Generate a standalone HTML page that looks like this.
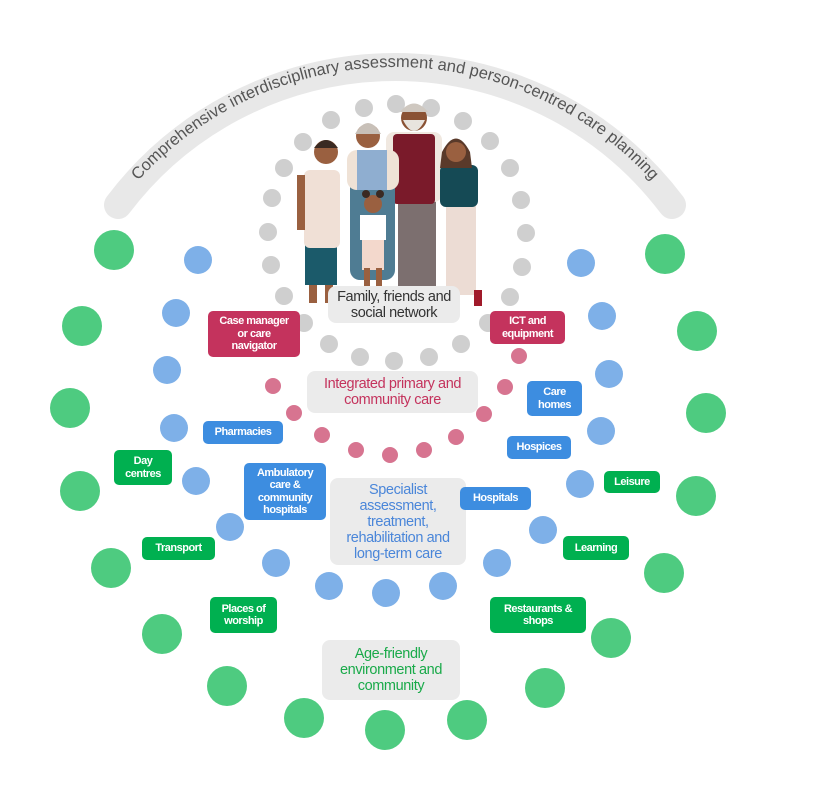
<!DOCTYPE html>
<html><head><meta charset="utf-8"><style>
html,body{margin:0;padding:0;background:#fff;}
body{width:818px;height:793px;position:relative;overflow:hidden;font-family:"Liberation Sans",sans-serif;}
.l{position:absolute;color:#fff;font-weight:bold;font-size:11px;line-height:12.5px;text-align:center;border-radius:5px;display:flex;align-items:center;justify-content:center;letter-spacing:-0.5px;}
.p{background:#c4335d}.b{background:#3d8de0}.g{background:#00b050}
.c{position:absolute;background:#ebebeb;border-radius:8px;text-align:center;font-size:14.5px;line-height:16px;display:flex;align-items:center;justify-content:center;letter-spacing:-0.4px;}
</style></head><body>
<svg width="818" height="793" style="position:absolute;left:0;top:0">
<defs><path id="arc" d="M118,205 A347,347 0 0 1 672,205"/></defs>
<path d="M118,205 A347,347 0 0 1 672,205" fill="none" stroke="#e8e8e8" stroke-width="28" stroke-linecap="round"/>
<text font-family="Liberation Sans, sans-serif" font-size="16.5" fill="#555"><textPath href="#arc" startOffset="50%" text-anchor="middle" dy="6">Comprehensive interdisciplinary assessment and person-centred care planning</textPath></text>
<g fill="#cfcfcf">
<circle cx="396" cy="104" r="9"/><circle cx="431" cy="108" r="9"/><circle cx="463" cy="121" r="9"/><circle cx="490" cy="141" r="9"/><circle cx="510" cy="168" r="9"/><circle cx="521" cy="200" r="9"/><circle cx="526" cy="233" r="9"/><circle cx="522" cy="267" r="9"/><circle cx="510" cy="297" r="9"/><circle cx="488" cy="323" r="9"/><circle cx="461" cy="344" r="9"/><circle cx="429" cy="357" r="9"/><circle cx="394" cy="361" r="9"/><circle cx="360" cy="357" r="9"/><circle cx="329" cy="344" r="9"/><circle cx="304" cy="323" r="9"/><circle cx="284" cy="296" r="9"/><circle cx="271" cy="265" r="9"/><circle cx="268" cy="232" r="9"/><circle cx="272" cy="198" r="9"/><circle cx="284" cy="168" r="9"/><circle cx="303" cy="142" r="9"/><circle cx="331" cy="120" r="9"/><circle cx="364" cy="108" r="9"/>
</g>
<g fill="#d77490">
<circle cx="273" cy="386" r="8"/><circle cx="294" cy="413" r="8"/><circle cx="322" cy="435" r="8"/><circle cx="356" cy="450" r="8"/><circle cx="390" cy="455" r="8"/><circle cx="424" cy="450" r="8"/><circle cx="456" cy="437" r="8"/><circle cx="484" cy="414" r="8"/><circle cx="505" cy="387" r="8"/><circle cx="519" cy="356" r="8"/>
</g>
<g fill="#7eb0e8">
<circle cx="198" cy="260" r="14"/><circle cx="176" cy="313" r="14"/><circle cx="167" cy="370" r="14"/><circle cx="174" cy="428" r="14"/><circle cx="196" cy="481" r="14"/><circle cx="230" cy="527" r="14"/><circle cx="276" cy="563" r="14"/><circle cx="329" cy="586" r="14"/><circle cx="386" cy="593" r="14"/><circle cx="443" cy="586" r="14"/><circle cx="497" cy="563" r="14"/><circle cx="543" cy="530" r="14"/><circle cx="580" cy="484" r="14"/><circle cx="601" cy="431" r="14"/><circle cx="609" cy="374" r="14"/><circle cx="602" cy="316" r="14"/><circle cx="581" cy="263" r="14"/>
</g>
<g fill="#4ecb80">
<circle cx="114" cy="250" r="20"/><circle cx="82" cy="326" r="20"/><circle cx="70" cy="408" r="20"/><circle cx="80" cy="491" r="20"/><circle cx="111" cy="568" r="20"/><circle cx="162" cy="634" r="20"/><circle cx="227" cy="686" r="20"/><circle cx="304" cy="718" r="20"/><circle cx="385" cy="730" r="20"/><circle cx="467" cy="720" r="20"/><circle cx="545" cy="688" r="20"/><circle cx="611" cy="638" r="20"/><circle cx="664" cy="573" r="20"/><circle cx="696" cy="496" r="20"/><circle cx="706" cy="413" r="20"/><circle cx="697" cy="331" r="20"/><circle cx="665" cy="254" r="20"/>
</g>
<g>
<rect x="398" y="200" width="38" height="93" fill="#7c6f6f"/>
<rect x="386" y="132" width="56" height="70" rx="8" fill="#f0e8e0"/>
<rect x="393" y="134" width="42" height="70" rx="4" fill="#7a1a2a"/>
<circle cx="414" cy="118" r="13" fill="#8a5234"/>
<path d="M400,112 Q414,95 428,112" fill="#cfc8c0"/>
<path d="M403,120 Q414,142 425,120" fill="#e8e4de"/>
<rect x="350" y="160" width="45" height="120" rx="10" fill="#4f7c93"/>
<rect x="347" y="150" width="52" height="40" rx="10" fill="#efe2d6"/>
<rect x="357" y="150" width="30" height="40" fill="#8faed0"/>
<circle cx="368" cy="136" r="12" fill="#9a6040"/>
<path d="M355,134 Q368,112 381,134" fill="#c8c0b8"/>
<rect x="362" y="238" width="22" height="32" fill="#f3d8cc"/>
<rect x="360" y="215" width="26" height="25" fill="#fff"/>
<rect x="364" y="268" width="6" height="18" fill="#9a6040"/><rect x="376" y="268" width="6" height="18" fill="#9a6040"/>
<circle cx="373" cy="204" r="9" fill="#9a6040"/>
<circle cx="366" cy="194" r="4" fill="#3a2a22"/><circle cx="380" cy="194" r="4" fill="#3a2a22"/>
<rect x="305" y="245" width="32" height="40" fill="#1b5a6a"/>
<rect x="304" y="170" width="36" height="78" rx="6" fill="#f0e0d6"/>
<rect x="309" y="285" width="8" height="18" fill="#9a6040"/><rect x="325" y="285" width="8" height="18" fill="#9a6040"/>
<rect x="297" y="175" width="8" height="55" fill="#9a6040"/>
<circle cx="326" cy="152" r="12" fill="#9a6040"/>
<path d="M314,148 Q326,132 338,148" fill="#3a2a22"/>
<rect x="446" y="205" width="30" height="90" fill="#ecdcd4"/>
<rect x="440" y="165" width="38" height="42" rx="6" fill="#154a55"/>
<path d="M442,152 Q456,125 470,152 L472,168 L440,168Z" fill="#5a3a2a"/>
<circle cx="456" cy="152" r="10" fill="#9a6040"/>
<rect x="474" y="290" width="8" height="16" fill="#a01a2a"/>
</g>
</svg>

<div class="c" style="left:328px;top:286px;width:132px;height:37px;color:#333;">Family, friends and<br>social network</div>
<div class="c" style="left:307px;top:371px;width:171px;height:42px;color:#c4335d;">Integrated primary and<br>community care</div>
<div class="c" style="left:330px;top:478px;width:136px;height:87px;color:#4a86d9;">Specialist<br>assessment,<br>treatment,<br>rehabilitation and<br>long-term care</div>
<div class="c" style="left:322px;top:640px;width:138px;height:60px;color:#1aaa4a;">Age-friendly<br>environment and<br>community</div>

<div class="l p" style="left:208px;top:311px;width:92px;height:46px;">Case manager<br>or care<br>navigator</div>
<div class="l p" style="left:490px;top:311px;width:75px;height:33px;">ICT and<br>equipment</div>
<div class="l b" style="left:527px;top:381px;width:55px;height:35px;">Care<br>homes</div>
<div class="l b" style="left:203px;top:421px;width:80px;height:23px;">Pharmacies</div>
<div class="l b" style="left:507px;top:436px;width:64px;height:23px;">Hospices</div>
<div class="l g" style="left:114px;top:450px;width:58px;height:35px;">Day<br>centres</div>
<div class="l g" style="left:604px;top:471px;width:56px;height:22px;">Leisure</div>
<div class="l b" style="left:244px;top:463px;width:82px;height:57px;">Ambulatory<br>care &amp;<br>community<br>hospitals</div>
<div class="l b" style="left:460px;top:487px;width:71px;height:23px;">Hospitals</div>
<div class="l g" style="left:142px;top:537px;width:73px;height:23px;">Transport</div>
<div class="l g" style="left:563px;top:536px;width:66px;height:24px;">Learning</div>
<div class="l g" style="left:210px;top:597px;width:67px;height:36px;">Places of<br>worship</div>
<div class="l g" style="left:490px;top:597px;width:96px;height:36px;">Restaurants &amp;<br>shops</div>
</body></html>
